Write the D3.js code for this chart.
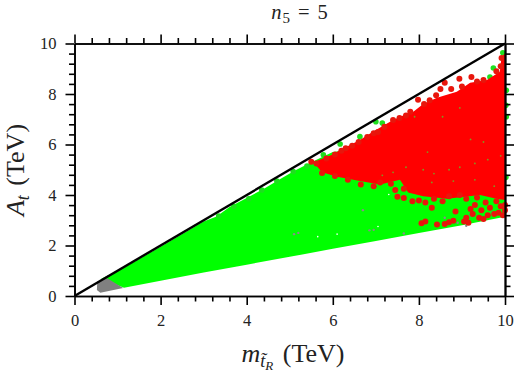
<!doctype html>
<html lang="en">
<head>
    <title>n5 = 5</title>
    <meta charset="utf-8"/>
    <script src="https://d3js.org/d3.v7.min.js"></script>
    <style>
        body { margin: 0; padding: 0; background: white; }
        svg { display: block; }
        text { font-family: "Liberation Serif", serif; fill: #222; }
    </style>
</head>
<body>
<script>
    const majorTicks = [0, 2, 4, 6, 8, 10]
    const minorTicks = [0.4, 0.8, 1.2, 1.6, 2.4, 2.8, 3.2, 3.6, 4.4, 4.8, 5.2, 5.6, 6.4, 6.8, 7.2, 7.6, 8.4, 8.8, 9.2, 9.6]
    const boundaryLine = [[0, 0], [10, 10]]

    // outlines of the solidly covered regions, in TeV
    const greenRegion = [[0.62, 0.68], [1.2, 1.17], [2, 1.95], [3, 2.95], [3.3, 3.15], [3.6, 3.52], [4, 3.88], [4.4, 4.25], [4.8, 4.65], [5.1, 4.95], [5.5, 5.3],
        [6, 5.7], [6.5, 5.8], [8, 5], [10, 7.2], [10, 3.14], [9, 2.8], [8, 2.5], [7, 2.18], [6, 1.87], [5, 1.55], [4, 1.24], [3, 0.93], [2, 0.6], [1.15, 0.33]]
    const grayRegion = [[0.53, 0.57], [0.76, 0.7], [1.13, 0.32], [0.6, 0.13], [0.52, 0.24]]
    const redRegion = [[5.55, 5.3], [5.97, 5.58], [6.17, 5.78], [6.63, 6.18], [6.94, 6.51], [7.33, 6.9], [7.56, 7.1], [7.87, 7.3], [8.1, 7.6], [8.42, 7.85], [8.88, 8.09], [9.19, 8.45], [9.58, 8.55], [9.88, 8.88],
        [9.92, 9.48], [10, 9.6], [10, 3.8], [9.8, 3.85], [9.42, 4], [8.65, 3.85], [8.1, 3.95], [7.75, 4.1], [7.56, 4.6], [7.1, 4.42], [6.63, 4.55], [6.1, 4.72], [5.75, 4.9]]

    const greenDots = [[3.35, 3.17], [3.7, 3.55], [4.05, 3.85], [4.35, 4.2], [4.7, 4.55], [5.08, 4.93], [5.4, 5.15], [5.78, 5.59],
        [6.17, 6.02], [6.63, 6.31], [7, 6.9], [7.15, 6.85], [9.03, 8.14], [9.65, 8.67], [9.73, 9.03], [9.95, 9.63],
        [10.03, 8.15], [10.02, 7.55], [10.03, 7.1], [10.02, 4.7], [9.9, 3.9], [9.7, 3.3], [9.2, 3.2], [8.6, 2.85]]
    const redDots = [[5.5, 5.32], [5.62, 5.25], [5.85, 5.45], [6.05, 5.6], [6.2, 5.75], [6.3, 5.85], [6.45, 5.95], [6.6, 6.1], [6.8, 6.3], [6.95, 6.45], [7.05, 6.5],
        [7.2, 6.7], [7.4, 6.97], [7.55, 7.05], [7.7, 7.15], [7.8, 7.3], [7.98, 7.77], [8.12, 7.6], [8.25, 7.75], [8.4, 7.95], [8.6, 8.45],
        [8.5, 8.2], [8.75, 8.2], [8.94, 8.6], [9.0, 8.3], [9.22, 8.67], [9.35, 8.5], [9.5, 8.55], [9.8, 8.9], [9.92, 9.43], [9.9, 9.1],
        [5.75, 4.87], [6.05, 4.75], [6.35, 4.6], [6.65, 4.42], [6.95, 4.35], [7.1, 4.5], [7.45, 4.2], [7.35, 4.45], [7.65, 4.25],
        [7.5, 3.93], [7.65, 3.88], [7.85, 3.75], [8.0, 3.78], [8.15, 3.7], [8.3, 3.5], [8.35, 3.85], [8.55, 3.75], [8.7, 3.95], [8.95, 4], [9.1, 3.85], [9.35, 3.9],
        [8.06, 2.88], [8.15, 2.95], [8.42, 2.83], [8.6, 2.85], [8.7, 2.92], [8.8, 2.98], [8.85, 3.35], [9.05, 2.95], [9.1, 3.1], [9.15, 2.9],
        [9.25, 3.25], [9.4, 3.1], [9.45, 3.4], [9.6, 3.2], [9.65, 3.5], [9.75, 3.25], [9.85, 3.3], [9.95, 3.2], [9.9, 3.55], [9.8, 3.75], [9.55, 3.7], [9.3, 3.6], [10, 3.6], [10, 3.4], [9.2, 3.45], [9.5, 3.05]]
    const greenSpecks = [[7.15, 4.78], [7.4, 4.9], [7.7, 5.1], [8.1, 5.0], [8.35, 4.85], [8.7, 5.0], [8.95, 5.1], [9.3, 5.25], [9.6, 5.4], [9.9, 5.55], [8.3, 4.5], [8.8, 4.55], [9.3, 4.6], [9.75, 4.35],
        [8.55, 7.1], [8.95, 7.45], [7.9, 7.1], [9.5, 6.1], [9.2, 6.2], [8.2, 5.7]]
    const graySpecks = [[6.85, 2.6], [6.95, 2.62], [5.1, 2.45], [5.2, 2.5], [7.65, 2.48], [8.9, 2.9], [9.1, 2.78], [8.6, 3.1], [6.7, 3.4]]
    const whiteSpecks = [[5.65, 2.35], [6.1, 2.45], [7.05, 2.75], [9.75, 5.6], [7.3, 4.02]]

    const width = 516
    const height = 373
    const margin = {top: 43.5, right: 11, bottom: 77, left: 74.5}

    const svg = d3.select("body")
        .append("svg")
        .attr("width", width)
        .attr("height", height)

    const x = d3.scaleLinear().domain([0, 10]).range([margin.left, width - margin.right])
    const y = d3.scaleLinear().domain([0, 10]).range([height - margin.bottom, margin.top])

    const line = d3.line().x(d => x(d[0])).y(d => y(d[1]))

    function region(points, color) {
        svg.append("path")
            .attr("d", line(points) + "Z")
            .attr("fill", color)
    }

    function dots(points, color, r) {
        svg.append("g")
            .selectAll("circle")
            .data(points)
            .enter()
            .append("circle")
            .attr("cx", d => x(d[0]))
            .attr("cy", d => y(d[1]))
            .attr("r", r)
            .attr("fill", color)
    }

    region(greenRegion, "#00ff00")
    region(grayRegion, "#808080")
    dots(greenDots, "#1ee01e", 2.8)
    dots(graySpecks, "#8a8a8a", 1.2)
    dots(whiteSpecks, "#ffffff", 0.8)
    region(redRegion, "#ff0000")
    dots(redDots, "#e8160c", 3)
    dots(greenSpecks, "#7f9a20", 0.9)

    svg.append("path")
        .attr("d", line(boundaryLine))
        .attr("fill", "none")
        .attr("stroke", "black")
        .attr("stroke-width", 2.4)

    // cada lado: ticks menores y mayores hacia afuera
    function drawAxis(axisFn, scale, translate, withLabels) {
        const g = svg.append("g").attr("transform", translate)
        g.call(axisFn(scale).tickValues(minorTicks).tickSizeInner(5.5).tickSizeOuter(0).tickFormat(""))
        const major = svg.append("g").attr("transform", translate)
        major.call(axisFn(scale).tickValues(majorTicks).tickSizeInner(9).tickSizeOuter(0)
            .tickPadding(withLabels ? 9 : 0).tickFormat(withLabels ? d3.format("d") : ""))
        svg.selectAll("g .domain, g .tick line").attr("stroke", "black").attr("stroke-width", 1.6)
        major.select(".domain").attr("stroke-width", 2)
        major.selectAll("text").style("font-family", '"Liberation Serif", serif').style("font-size", "16.5px").attr("fill", "#222")
    }

    drawAxis(d3.axisBottom, x, `translate(0,${y(0)})`, true)
    drawAxis(d3.axisTop, x, `translate(0,${y(10)})`, false)
    drawAxis(d3.axisLeft, y, `translate(${x(0)},0)`, true)
    drawAxis(d3.axisRight, y, `translate(${x(10)},0)`, false)

    const title = svg.append("text")
        .attr("x", 300)
        .attr("y", 19)
        .attr("text-anchor", "middle")
        .style("font-size", "20.5px")
        .style("letter-spacing", "1px")
    title.append("tspan").style("font-style", "italic").text("n")
    title.append("tspan").attr("dy", 4).style("font-size", "15px").text("5")
    title.append("tspan").attr("dy", -4).attr("dx", 7).text("=")
    title.append("tspan").attr("dx", 7).text("5")

    const xLabel = svg.append("text")
        .attr("x", 293)
        .attr("y", 362)
        .attr("text-anchor", "middle")
        .style("font-size", "26px")
    xLabel.append("tspan").style("font-style", "italic").text("m")
    xLabel.append("tspan").attr("dy", 5).style("font-size", "18px").style("font-style", "italic").text("t\u0303")
    xLabel.append("tspan").attr("dy", 3).style("font-size", "13px").style("font-style", "italic").text("R")
    xLabel.append("tspan").attr("dy", -8).attr("dx", 3).text(" (TeV)")

    const yLabel = svg.append("text")
        .attr("transform", "translate(24,170) rotate(-90)")
        .attr("text-anchor", "middle")
        .style("font-size", "26px")
    yLabel.append("tspan").style("font-style", "italic").text("A")
    yLabel.append("tspan").attr("dy", 5).style("font-size", "18px").style("font-style", "italic").text("t")
    yLabel.append("tspan").attr("dy", -5).attr("dx", 3).text(" (TeV)")
</script>
</body>
</html>
